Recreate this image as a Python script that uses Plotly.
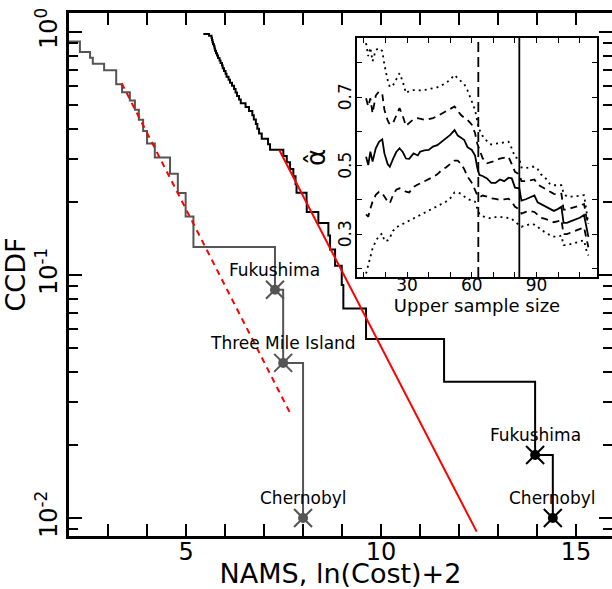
import math
import plotly.graph_objects as go

FONT = "DejaVu Sans"

# ---------------- main panel data ----------------
# sorted NAMS values, ln(Cost)+2, for the two data sets
gray_cost = [1.6, 1.8, 2.28, 2.28, 2.54, 2.61, 2.90, 3.21, 3.21, 3.36,
             3.56, 3.69, 3.79, 3.90, 4.00, 4.20, 4.59, 4.79, 4.99, 5.19,
             7.28, 7.49, 8.00]
black_cost = [5.444, 5.590, 5.654, 5.667, 5.679, 5.692, 5.718, 5.731, 5.744, 5.769,
              5.795, 5.821, 5.859, 5.885, 5.923, 5.941, 5.974, 6.013, 6.038, 6.090,
              6.128, 6.179, 6.231, 6.269, 6.308, 6.359, 6.403, 6.526, 6.615, 6.700,
              6.738, 6.790, 6.828, 6.872, 6.941, 7.103, 7.154, 7.495, 7.582, 7.667,
              7.751, 7.808, 7.833, 8.090, 8.095, 8.392, 8.649, 8.692, 8.821, 8.992,
              9.033, 9.615, 11.615, 13.949, 14.403]
ccdf_floor = 0.01

gray_events = ["Fukushima", "Three Mile Island", "Chernobyl"]
gray_event_idx = [20, 21, 22]
black_events = ["Fukushima", "Chernobyl"]
black_event_idx = [53, 54]

fit_gray_x = [3.35, 7.67]
fit_gray_y = [0.615, 0.027]
fit_black_x = [7.39, 12.45]
fit_black_y = [0.327, 0.00879]

# ---------------- inset data ----------------
upper_n = [11, 12, 13, 14, 15.5, 17, 18.5, 19.5, 21, 22,
           23.5, 25, 26.5, 28, 29.5, 31, 33, 35, 36, 38,
           40, 42, 44, 46, 48, 50, 52, 53.5, 55, 56.5,
           58, 60, 61.5, 62.5, 63.5, 65, 67, 69, 71, 73,
           75, 77, 78.5, 80, 82, 83, 85, 87, 89, 90.5,
           92, 94, 96, 98, 100, 101.5, 102.5, 104, 106, 108,
           110, 112, 113, 114]
alpha_mid = [0.526, 0.502, 0.541, 0.512, 0.551, 0.570, 0.577, 0.536, 0.505, 0.497,
             0.520, 0.540, 0.551, 0.540, 0.521, 0.520, 0.536, 0.530, 0.541, 0.545,
             0.546, 0.556, 0.560, 0.570, 0.578, 0.590, 0.604, 0.588, 0.582, 0.575,
             0.554, 0.546, 0.530, 0.495, 0.473, 0.470, 0.463, 0.450, 0.450, 0.460,
             0.455, 0.465, 0.463, 0.436, 0.434, 0.398, 0.402, 0.408, 0.413, 0.393,
             0.388, 0.382, 0.376, 0.368, 0.374, 0.380, 0.333, 0.333, 0.338, 0.343,
             0.348, 0.356, 0.320, 0.292]
alpha_hi1 = [0.697, 0.673, 0.697, 0.653, 0.705, 0.717, 0.710, 0.663, 0.632, 0.620,
             0.625, 0.645, 0.668, 0.645, 0.616, 0.625, 0.636, 0.639, 0.637, 0.634,
             0.636, 0.639, 0.645, 0.652, 0.660, 0.667, 0.673, 0.660, 0.648, 0.640,
             0.634, 0.620, 0.595, 0.565, 0.545, 0.522, 0.507, 0.510, 0.515, 0.521,
             0.524, 0.526, 0.505, 0.482, 0.475, 0.455, 0.455, 0.458, 0.460, 0.445,
             0.440, 0.432, 0.425, 0.418, 0.415, 0.418, 0.372, 0.372, 0.376, 0.380,
             0.384, 0.388, 0.352, 0.330]
alpha_lo1 = [0.358, 0.351, 0.375, 0.395, 0.415, 0.424, 0.420, 0.410, 0.395, 0.390,
             0.415, 0.430, 0.434, 0.430, 0.424, 0.422, 0.438, 0.445, 0.448, 0.455,
             0.460, 0.467, 0.475, 0.487, 0.495, 0.505, 0.515, 0.515, 0.505, 0.490,
             0.468, 0.450, 0.430, 0.415, 0.408, 0.413, 0.410, 0.405, 0.403, 0.400,
             0.402, 0.404, 0.395, 0.380, 0.372, 0.360, 0.365, 0.368, 0.365, 0.355,
             0.348, 0.345, 0.340, 0.335, 0.338, 0.342, 0.300, 0.300, 0.305, 0.310,
             0.315, 0.320, 0.290, 0.262]
alpha_hi2 = [0.858, 0.820, 0.845, 0.805, 0.838, 0.843, 0.835, 0.795, 0.750, 0.730,
             0.735, 0.755, 0.770, 0.746, 0.712, 0.718, 0.721, 0.721, 0.720, 0.721,
             0.723, 0.727, 0.729, 0.735, 0.741, 0.752, 0.765, 0.755, 0.745, 0.738,
             0.720, 0.690, 0.663, 0.630, 0.605, 0.587, 0.572, 0.562, 0.565, 0.566,
             0.568, 0.570, 0.551, 0.525, 0.520, 0.495, 0.492, 0.497, 0.497, 0.490,
             0.475, 0.465, 0.448, 0.443, 0.443, 0.443, 0.420, 0.410, 0.410, 0.410,
             0.412, 0.414, 0.370, 0.330]
alpha_lo2 = [0.185, 0.210, 0.235, 0.258, 0.280, 0.295, 0.302, 0.280, 0.282, 0.290,
             0.310, 0.320, 0.325, 0.330, 0.335, 0.340, 0.345, 0.353, 0.356, 0.362,
             0.368, 0.375, 0.382, 0.388, 0.395, 0.405, 0.422, 0.422, 0.418, 0.410,
             0.403, 0.398, 0.395, 0.375, 0.360, 0.352, 0.348, 0.346, 0.350, 0.351,
             0.350, 0.347, 0.345, 0.336, 0.327, 0.322, 0.325, 0.330, 0.328, 0.322,
             0.313, 0.305, 0.298, 0.293, 0.293, 0.296, 0.268, 0.268, 0.272, 0.275,
             0.278, 0.282, 0.255, 0.238]
alpha_ticks = [0.3, 0.5, 0.7]
cut_dashed = 63
cut_solid = 82


def ccdf(values):
    n = len(values)
    return [max((n - 1 - i) / n, ccdf_floor) for i in range(n)]


GRAY = "#555555"
gray_y = ccdf(gray_cost)
black_y = ccdf(black_cost)

fig = go.Figure()

# main curves
fig.add_trace(go.Scatter(x=gray_cost, y=gray_y, mode="lines",
                         line=dict(color=GRAY, width=2, shape="hv"), showlegend=False))
fig.add_trace(go.Scatter(x=black_cost, y=black_y, mode="lines",
                         line=dict(color="black", width=2, shape="hv"), showlegend=False))
fig.add_trace(go.Scatter(x=fit_gray_x, y=fit_gray_y, mode="lines",
                         line=dict(color="red", width=2, dash="6px,5px"), showlegend=False))
fig.add_trace(go.Scatter(x=fit_black_x, y=fit_black_y, mode="lines",
                         line=dict(color="red", width=2), showlegend=False))

annotations = []
for idx_list, names, xs, ys, col in [(gray_event_idx, gray_events, gray_cost, gray_y, GRAY),
                                     (black_event_idx, black_events, black_cost, black_y, "black")]:
    mx = [xs[i] for i in idx_list]
    my = [ys[i] for i in idx_list]
    fig.add_trace(go.Scatter(x=mx, y=my, mode="markers",
                             marker=dict(symbol="circle", size=10, color=col),
                             showlegend=False))
    fig.add_trace(go.Scatter(x=mx, y=my, mode="markers",
                             marker=dict(symbol="x-thin", size=18, color=col,
                                         line=dict(color=col, width=2)),
                             showlegend=False))
    for name, x, y in zip(names, mx, my):
        annotations.append(dict(x=x, y=math.log10(y), xref="x", yref="y", text=name,
                                showarrow=False, yshift=20,
                                font=dict(family=FONT, size=17, color="black")))

# inset y tick labels (rotated, placed just left of the inset axis)
for v in alpha_ticks:
    annotations.append(dict(x=0, y=v, xref="x2 domain", yref="y2", text=f"{v:.1f}",
                            showarrow=False, textangle=-90, xanchor="center",
                            xshift=-12, font=dict(family=FONT, size=17, color="black")))

# inset curves
for ys, dash in [(alpha_hi2, "2px,4px"), (alpha_lo2, "2px,4px"),
                 (alpha_hi1, "7px,5px"), (alpha_lo1, "7px,5px"),
                 (alpha_mid, "solid")]:
    fig.add_trace(go.Scatter(x=upper_n, y=ys, mode="lines", xaxis="x2", yaxis="y2",
                             line=dict(color="black", width=1.8, dash=dash),
                             showlegend=False))

shapes = [
    dict(type="line", xref="x2", yref="y2 domain", x0=cut_dashed, x1=cut_dashed, y0=0, y1=1,
         line=dict(color="black", width=1.8, dash="10px,5px")),
    dict(type="line", xref="x2", yref="y2 domain", x0=cut_solid, x1=cut_solid, y0=0, y1=1,
         line=dict(color="black", width=1.8)),
]

y_minor = [m * 10 ** e for e in (-3, -2, -1) for m in range(2, 10)]

fig.update_layout(
    width=612, height=589,
    margin=dict(l=69, r=0, t=13, b=53),
    paper_bgcolor="white", plot_bgcolor="white",
    font=dict(family=FONT, color="black"),
    showlegend=False,
    annotations=annotations,
    shapes=shapes,
    xaxis=dict(
        domain=[0, 1], range=[2, 15.92], automargin=False,
        showline=True, linecolor="black", linewidth=2.5, mirror="ticks",
        ticks="inside", ticklen=12, tickwidth=2, tickcolor="black",
        tickmode="array", tickvals=[5, 10, 15], ticklabelstandoff=-8,
        minor=dict(dtick=1, tick0=0, ticks="inside", ticklen=12, tickwidth=2, tickcolor="black"),
        showgrid=False, zeroline=False,
        tickfont=dict(family=FONT, size=24),
        title=dict(text="NAMS, ln(Cost)+2", font=dict(family=FONT, size=27), standoff=8),
    ),
    yaxis=dict(
        type="log", domain=[0, 1], range=[-2.074, 0.078], automargin=False,
        showline=True, linecolor="black", linewidth=2.5, mirror="ticks",
        ticks="inside", ticklen=13, tickwidth=2, tickcolor="black",
        tickmode="array", tickvals=[0.01, 0.1, 1],
        ticktext=["10<sup>-2</sup>", "10<sup>-1</sup>", "10<sup>0</sup>"],
        tickangle=-90,
        minor=dict(tickmode="array", tickvals=y_minor, ticks="inside", ticklen=9,
                   tickwidth=2, tickcolor="black"),
        showgrid=False, zeroline=False,
        tickfont=dict(family=FONT, size=24),
        title=dict(text="CCDF", font=dict(family=FONT, size=27), standoff=4),
    ),
    xaxis2=dict(
        domain=[0.5304, 0.9724], anchor="y2", range=[6.8, 118], automargin=False,
        showline=True, linecolor="black", linewidth=2, mirror="ticks",
        ticks="inside", ticklen=5, tickwidth=1, tickcolor="black",
        tickmode="array", tickvals=[30, 60, 90], ticklabelstandoff=-8,
        minor=dict(dtick=10, tick0=0, ticks="inside", ticklen=5, tickwidth=1, tickcolor="black"),
        showgrid=False, zeroline=False,
        tickfont=dict(family=FONT, size=17),
        title=dict(text="Upper sample size", font=dict(family=FONT, size=18), standoff=0),
    ),
    yaxis2=dict(
        domain=[0.4952, 0.9522], anchor="x2", range=[0.175, 0.873], automargin=False,
        showline=True, linecolor="black", linewidth=2, mirror="ticks",
        ticks="inside", ticklen=5, tickwidth=1, tickcolor="black",
        tickmode="array", tickvals=alpha_ticks, showticklabels=False,
        minor=dict(dtick=0.1, tick0=0, ticks="inside", ticklen=5, tickwidth=1, tickcolor="black"),
        showgrid=False, zeroline=False,
        title=dict(text="α̂", font=dict(family=FONT, size=26), standoff=22),
    ),
)

fig.write_html("out.html", config={"displayModeBar": False},
               post_script="document.body.style.margin='0';")
